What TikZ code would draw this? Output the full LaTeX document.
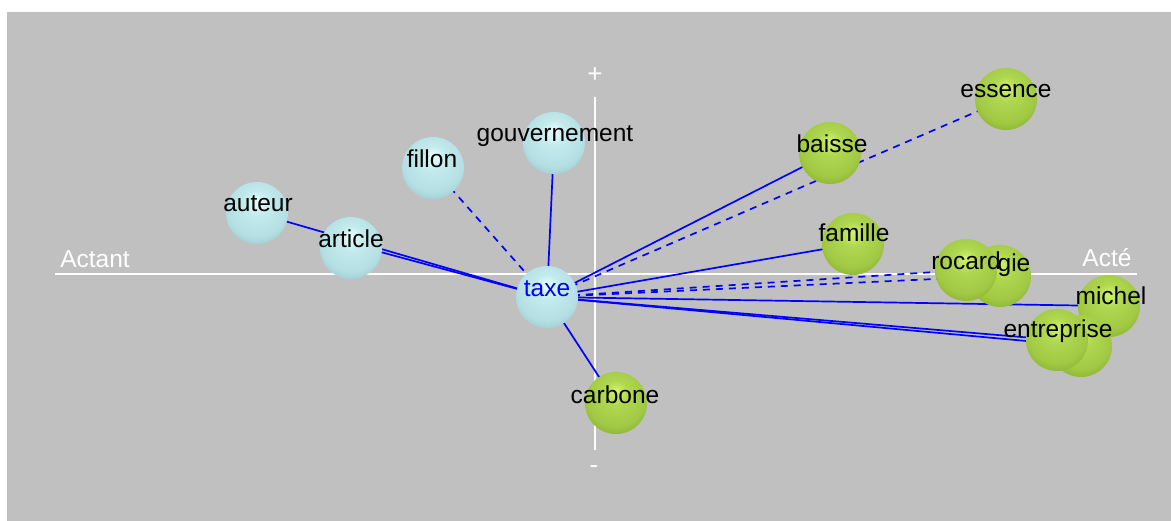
\documentclass[tikz,border=0pt]{standalone}
\usepackage{fontspec}
\setmainfont{Liberation Sans}
\definecolor{bggray}{RGB}{192,192,192}
\definecolor{edgeblue}{RGB}{0,0,255}
\definecolor{cyH}{RGB}{232,255,255}
\definecolor{cyM}{RGB}{195,235,238}
\definecolor{cyL}{RGB}{160,205,210}
\definecolor{cyD}{RGB}{95,130,135}
\definecolor{grH}{RGB}{210,245,105}
\definecolor{grM}{RGB}{175,215,80}
\definecolor{grL}{RGB}{140,180,50}
\definecolor{grD}{RGB}{80,105,25}
\pgfdeclareradialshading{cyanball}{\pgfpoint{0bp}{10bp}}{color(0bp)=(cyH); color(10bp)=(cyM); color(24bp)=(cyM!60!cyL); color(31bp)=(cyL); color(35bp)=(cyD); color(50bp)=(cyD)}
\pgfdeclareradialshading{greenball}{\pgfpoint{0bp}{10bp}}{color(0bp)=(grH); color(10bp)=(grM); color(24bp)=(grM!60!grL); color(31bp)=(grL); color(35bp)=(grD); color(50bp)=(grD)}
\tikzset{
  sph/.style={circle, inner sep=0pt, minimum size=62pt},
  cyanbubble/.style={sph, shade, shading=cyanball},
  greenbubble/.style={sph, shade, shading=greenball},
  lbl/.style={anchor=base, inner sep=0pt, font=\fontsize{24.5}{24.5}\selectfont, text=black},
  axlbl/.style={anchor=base, inner sep=0pt, font=\fontsize{24.5}{24.5}\selectfont, text=white},
  axis/.style={draw=white, line width=2pt},
  sign/.style={text=white, inner sep=0pt, font=\fontsize{26}{26}\selectfont},
  link/.style={draw=edgeblue, line width=1.7pt},
  dlink/.style={draw=edgeblue, line width=1.7pt, dash pattern=on 7pt off 6pt},
}
\begin{document}
\begin{tikzpicture}[x=1pt, y=-1pt]
\useasboundingbox (0,0) rectangle (1171,521);
\fill[white] (0,0) rectangle (1171,521);
\fill[bggray] (7,12) rectangle (1171,521);
% axes
\coordinate (hl) at (55,274);
\coordinate (hr) at (1137,274);
\coordinate (vt) at (595,97);
\coordinate (vb) at (595,450);
\draw[axis] (hl) -- (hr);
\draw[axis] (vt) -- (vb);
\node[axlbl] (actant) at (95,268) {Actant};
\node[axlbl] (acte) at (1107,267) {Acté};
\node[sign] (plus) at (595,75) {+};
\node[sign] (minus) at (594,470) {-};
% sphere positions
\coordinate (pauteur) at (257,213);
\coordinate (particle) at (351,248);
\coordinate (pfillon) at (433,168);
\coordinate (pgouv) at (554,143);
\coordinate (ptaxe) at (547,297);
\coordinate (pcarbone) at (616,403);
\coordinate (pbaisse) at (830,153);
\coordinate (pessence) at (1006,99);
\coordinate (pfamille) at (853,244);
\coordinate (procard) at (966,270);
\coordinate (pgie) at (1000,276);
\coordinate (pmichel) at (1109,306);
\coordinate (pentb) at (1081,346);
\coordinate (pentf) at (1057,340);
% connectors (under spheres)
\draw[link] (pauteur) -- (ptaxe);
\draw[link] ([yshift=4pt]particle) -- (ptaxe);
\draw[dlink] (pfillon) -- (ptaxe);
\draw[link] (pgouv) -- (ptaxe);
\draw[link] (ptaxe) -- (pcarbone);
\draw[link] (ptaxe) -- (pbaisse);
\draw[dlink] (ptaxe) -- (pessence);
\draw[link] (ptaxe) -- (pfamille);
\draw[dlink] (ptaxe) -- (procard);
\draw[dlink] (ptaxe) -- (pgie);
\draw[link] (ptaxe) -- (pmichel);
\draw[link] (ptaxe) -- (pentb);
\draw[link] (ptaxe) -- (pentf);
% spheres
\node[cyanbubble] (auteur) at (pauteur) {};
\node[cyanbubble] (article) at (particle) {};
\node[cyanbubble] (fillon) at (pfillon) {};
\node[cyanbubble] (gouvernement) at (pgouv) {};
\node[cyanbubble] (taxe) at (ptaxe) {};
\node[greenbubble] (carbone) at (pcarbone) {};
\node[greenbubble] (baisse) at (pbaisse) {};
\node[greenbubble] (essence) at (pessence) {};
\node[greenbubble] (famille) at (pfamille) {};
\node[greenbubble] (gie) at (pgie) {};
\node[greenbubble] (rocard) at (procard) {};
\node[greenbubble] (michel) at (pmichel) {};
\node[greenbubble] (entb) at (pentb) {};
\node[greenbubble] (entf) at (pentf) {};
% labels
\node[lbl] (lauteur) at (258,212) {auteur};
\node[lbl] (larticle) at (351,248) {article};
\node[lbl] (lfillon) at (432,168) {fillon};
\node[lbl] (lgouv) at (555,142) {gouvernement};
\node[lbl, text=edgeblue] (ltaxe) at (547,297) {taxe};
\node[lbl] (lcarbone) at (615,404) {carbone};
\node[lbl] (lbaisse) at (832,153) {baisse};
\node[lbl] (lessence) at (1006,98) {essence};
\node[lbl] (lfamille) at (854,242) {famille};
\node[lbl] (lgie) at (1014,272) {gie};
\node[lbl] (lrocard) at (966,270) {rocard};
\node[lbl] (lmichel) at (1111,305) {michel};
\node[lbl] (lent) at (1058,338) {entreprise};
\end{tikzpicture}
\end{document}
